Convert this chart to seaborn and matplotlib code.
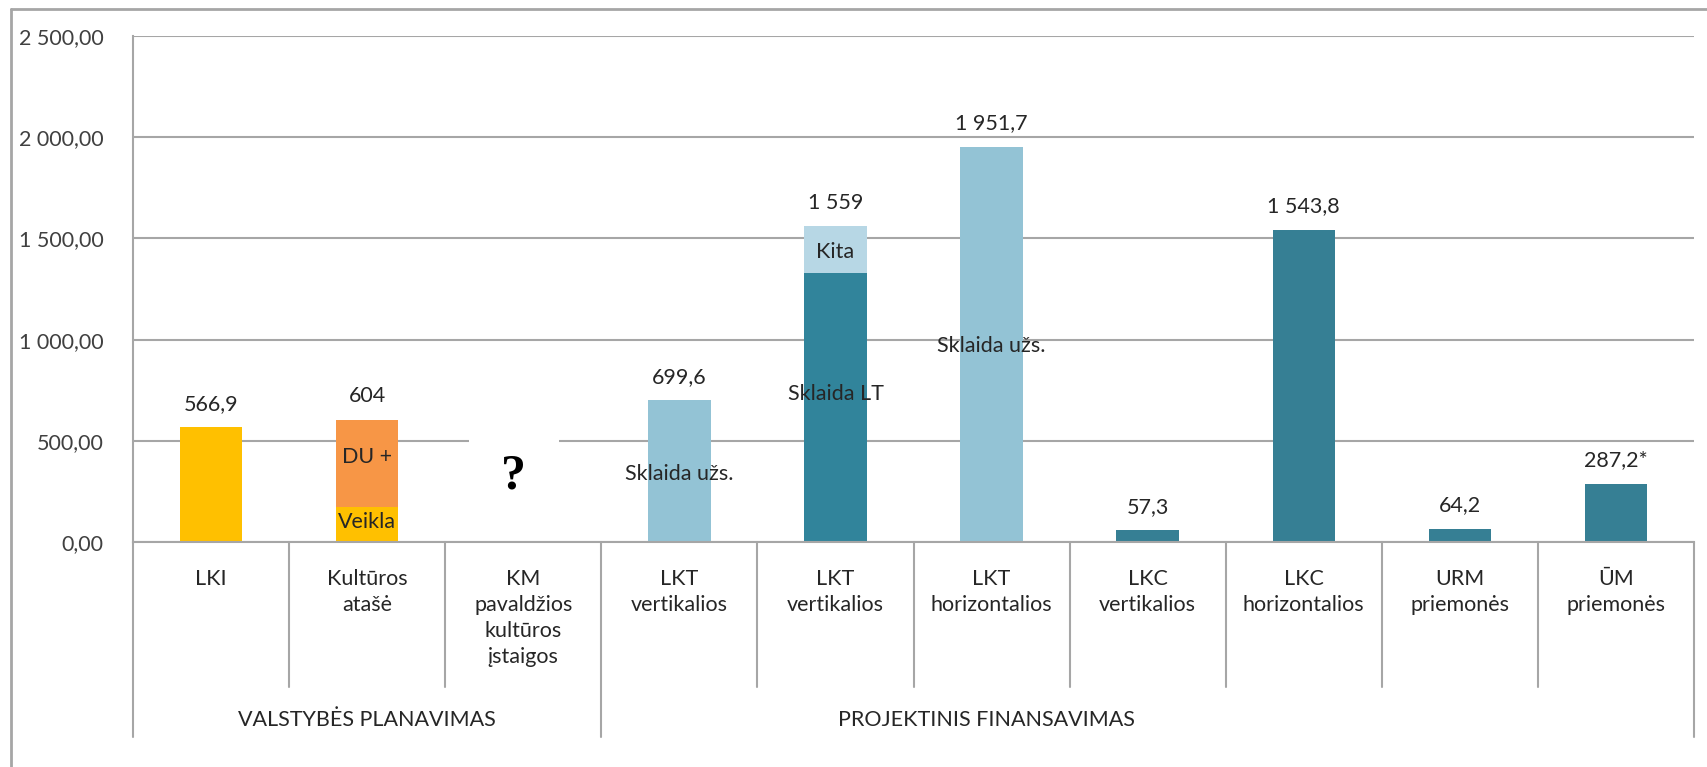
import numpy as np
import pandas as pd
import seaborn as sns
import matplotlib.pyplot as plt
from matplotlib.lines import Line2D
from matplotlib.transforms import blended_transform_factory

# Data
categories = ["LKI", "Kultūros\natašė", "KM\npavaldžios\nkultūros\nįstaigos",
              "LKT\nvertikalios", "LKT\nvertikalios", "LKT\nhorizontalios",
              "LKC\nvertikalios", "LKC\nhorizontalios", "URM\npriemonės",
              "ŪM\npriemonės"]
totals = [566.9, 604.0, np.nan, 699.6, 1559.0, 1951.7, 57.3, 1543.8, 64.2, 287.2]
lower = [0.0, 175.0, 0.0, 0.0, 1330.0, 0.0, 0.0, 0.0, 0.0, 0.0]
value_labels = ["566,9", "604", "", "699,6", "1 559", "1 951,7", "57,3",
                "1 543,8", "64,2", "287,2*"]
groups = ["VALSTYBĖS PLANAVIMAS", "PROJEKTINIS FINANSAVIMAS"]
group_sizes = [3, 7]
yticks = [0, 500, 1000, 1500, 2000, 2500]

# segment labels inside bars: (category index, y value, text)
inner_labels = [(1, 420, "DU +"), (1, 99, "Veikla"), (3, 336, "Sklaida užs."),
                (4, 1432, "Kita"), (4, 731, "Sklaida LT"), (5, 968, "Sklaida užs.")]

YELLOW = "#FFC000"
ORANGE = "#F79646"
LIGHT = "#93C3D5"
PALE = "#B7D7E5"
TEAL = "#367F94"
DARK_TEAL = "#31849B"
top_colors = [YELLOW, ORANGE, YELLOW, LIGHT, PALE, LIGHT, TEAL, TEAL, TEAL, TEAL]
lower_colors = [YELLOW, YELLOW, YELLOW, LIGHT, DARK_TEAL, LIGHT, TEAL, TEAL, TEAL, TEAL]
GRID = "#A6A6A6"
TXT = "#262626"
FS = 15.5

sns.set_style("white")
plt.rcParams['font.family'] = ['Lato', 'DejaVu Sans']

keys = [f"c{i}" for i in range(len(categories))]
df = pd.DataFrame({"key": keys, "total": totals, "lower": lower})

fig = plt.figure(figsize=(17.08, 7.67), dpi=100)
W, H = 1708, 767
ax = fig.add_axes([133 / W, 1 - 542 / H, (1694 - 133) / W, (542 - 36) / H])

sns.barplot(data=df, x="key", y="total", hue="key", order=keys,
            palette=dict(zip(keys, top_colors)), width=0.4, saturation=1,
            linewidth=0, legend=False, ax=ax)
sns.barplot(data=df, x="key", y="lower", hue="key", order=keys,
            palette=dict(zip(keys, lower_colors)), width=0.4, saturation=1,
            linewidth=0, legend=False, ax=ax)

ax.set_xlim(-0.5, len(keys) - 0.5)
ax.set_ylim(0, 2500)
ax.set_yticks(yticks)
ax.set_yticklabels([f"{v:,.2f}".replace(",", " ").replace(".", ",") for v in yticks])
ax.set_xticks([])
ax.set_xlabel("")
ax.set_ylabel("")
ax.set_axisbelow(True)
ax.yaxis.grid(True, color=GRID, lw=1.5)
ax.tick_params(axis='y', length=10, width=1.5, color=GRID, pad=11,
               labelsize=FS, labelcolor="#404040")
for s in ["top", "right"]:
    ax.spines[s].set_visible(False)
for s in ["left", "bottom"]:
    ax.spines[s].set_color(GRID)
    ax.spines[s].set_linewidth(1.5)

# value labels above bars
for i, (t, lab) in enumerate(zip(totals, value_labels)):
    if lab:
        ax.annotate(lab, (i, t), xytext=(0, 17), textcoords="offset points",
                    ha="center", va="center", fontsize=FS, color=TXT)

for i, y, lab in inner_labels:
    ax.text(i, y, lab, ha="center", va="center", fontsize=FS, color=TXT, zorder=4)

# missing data marker (white box hides the gridline behind it)
ax.text(2 - 0.06, 326, "?", ha="center", va="center", fontsize=36,
        fontweight="bold", family="Liberation Serif", color="black", zorder=4,
        bbox=dict(boxstyle="square,pad=0.65", fc="white", ec="none"))

# multi-level category axis
trans = blended_transform_factory(ax.transData, ax.transAxes)
for i, lab in enumerate(categories):
    ax.text(i, -0.053, lab, transform=trans, ha="center", va="top",
            fontsize=FS, color=TXT, linespacing=1.38)

group_edges = np.concatenate([[0], np.cumsum(group_sizes)]) - 0.5
for b in np.arange(0.5, len(keys) - 1):
    if b not in group_edges:
        ax.plot([b, b], [0, -0.287], transform=trans, clip_on=False,
                color=GRID, lw=1.5)
for b in group_edges:
    ax.plot([b, b], [0, -0.385], transform=trans, clip_on=False,
            color=GRID, lw=1.5)

ax.text(1.0, -0.352, groups[0], transform=trans, ha="center", va="center",
        fontsize=FS, color=TXT)
ax.text(4.97, -0.352, groups[1], transform=trans, ha="center", va="center",
        fontsize=FS, color=TXT)

# chart frame (only top and left visible)
fig.add_artist(Line2D([11 / W, 11 / W], [0, 1 - 9 / H], color=GRID, lw=2))
fig.add_artist(Line2D([11 / W, 1], [1 - 9 / H, 1 - 9 / H], color=GRID, lw=2))

fig.savefig("out.png", dpi=100)
